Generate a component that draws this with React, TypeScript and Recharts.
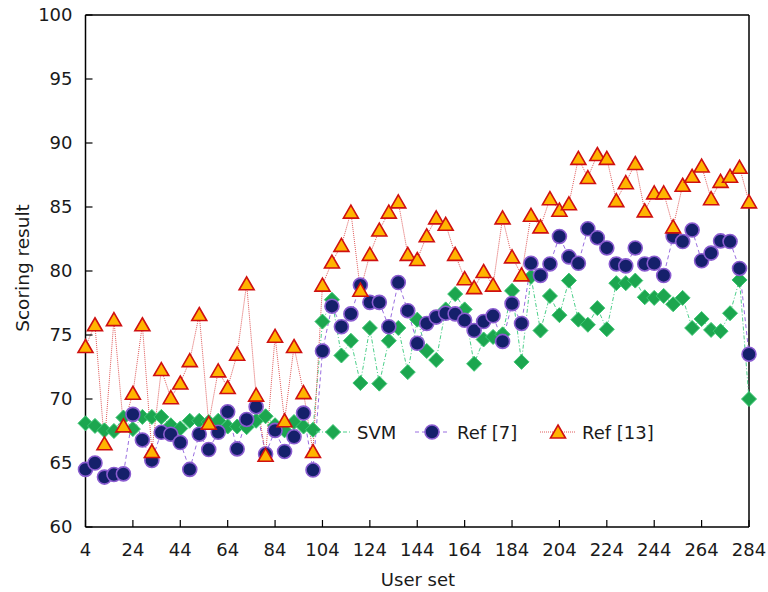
import React from 'react';
import { LineChart, Line, XAxis, YAxis, ReferenceLine, Legend } from 'recharts';

const userSet = [
  4, 8, 12, 16, 20, 24, 28, 32, 36, 40, 44, 48, 52, 56, 60, 64, 68, 72, 76, 80,
  84, 88, 92, 96, 100, 104, 108, 112, 116, 120, 124, 128, 132, 136, 140, 144, 148, 152, 156, 160,
  164, 168, 172, 176, 180, 184, 188, 192, 196, 200, 204, 208, 212, 216, 220, 224, 228, 232, 236, 240,
  244, 248, 252, 256, 260, 264, 268, 272, 276, 280, 284,
];

const svm = [
  68.1, 67.9, 67.55, 67.5, 68.55, 67.65, 68.6, 68.6, 68.6, 67.95, 67.7, 68.3, 68.3, 68.2, 68.3, 67.85, 67.85, 67.8, 68.3, 68.65,
  67.95, 67.55, 68.2, 67.85, 67.6, 76.05, 77.75, 73.4, 74.55, 71.25, 75.55, 71.2, 74.55, 75.55, 72.1, 76.2, 73.75, 73.05, 77.0, 78.2,
  77.0, 72.75, 74.65, 74.85, 75.05, 78.45, 72.9, 79.55, 75.35, 78.05, 76.55, 79.25, 76.2, 75.8, 77.1, 75.45, 79.05, 79.05, 79.25, 77.95,
  77.9, 78.05, 77.4, 77.9, 75.55, 76.25, 75.4, 75.3, 76.7, 79.3, 70.0,
];

const ref7 = [
  64.5, 65.0, 63.9, 64.1, 64.15, 68.8, 66.8, 65.2, 67.4, 67.25, 66.6, 64.5, 67.25, 66.05, 67.4, 69.0, 66.1, 68.4, 69.4, 65.7,
  67.55, 65.9, 67.05, 68.9, 64.45, 73.75, 77.25, 75.65, 76.65, 78.9, 77.55, 77.55, 75.65, 79.1, 76.9, 74.35, 75.9, 76.4, 76.7, 76.65,
  76.15, 75.35, 76.05, 76.5, 74.5, 77.45, 75.9, 80.6, 79.65, 80.55, 82.7, 81.1, 80.6, 83.3, 82.6, 81.8, 80.55, 80.4, 81.8, 80.55,
  80.6, 79.65, 82.7, 82.3, 83.2, 80.8, 81.4, 82.35, 82.3, 80.2, 73.5,
];

const ref13 = [
  74.1, 75.8, 66.5, 76.2, 67.9, 70.45, 75.8, 65.9, 72.3, 70.1, 71.25, 73.0, 76.6, 68.1, 72.2, 70.9, 73.5, 79.0, 70.3, 65.6,
  74.9, 68.3, 74.1, 70.5, 65.9, 78.9, 80.7, 82.0, 84.6, 78.5, 81.3, 83.2, 84.6, 85.4, 81.3, 80.9, 82.75, 84.15, 83.65, 81.3,
  79.4, 78.7, 79.96, 78.9, 84.15, 81.1, 79.7, 84.35, 83.45, 85.65, 84.75, 85.25, 88.8, 87.3, 89.1, 88.8, 85.5, 86.9, 88.4, 84.7,
  86.1, 86.1, 83.45, 86.7, 87.4, 88.2, 85.65, 87.0, 87.4, 88.1, 85.4,
];

const xTicks = [4, 24, 44, 64, 84, 104, 124, 144, 164, 184, 204, 224, 244, 264, 284];
const yTicks = [60, 65, 70, 75, 80, 85, 90, 95, 100];

const seriesNames = ['SVM', 'Ref [7]', 'Ref [13]'];

const data = userSet.map((x, i) => ({ x, svm: svm[i], ref7: ref7[i], ref13: ref13[i] }));

const FONT = '"DejaVu Sans", Verdana, sans-serif';
const TEXT = '#1a1a1a';

const C = {
  svmFill: '#1ca64f',
  svmStroke: '#3cc673',
  svmLine: '#4ccf8a',
  r7Fill: '#15206b',
  r7Stroke: '#8a5cd0',
  r7Line: '#9a6ee0',
  r13Fill: '#ffb400',
  r13Stroke: '#cf1010',
  r13Line: '#e05a5a',
};

const diamondPts = (cx: number, cy: number, r = 7.5) =>
  `${cx},${cy - r} ${cx + r},${cy} ${cx},${cy + r} ${cx - r},${cy}`;

const trianglePts = (cx: number, cy: number) =>
  `${cx},${cy - 7} ${cx + 7.5},${cy + 6} ${cx - 7.5},${cy + 6}`;

const DiamondDot = (p: any) => {
  if (p.cx == null || p.cy == null) return <g key={`sd-${p.index}`} />;
  return (
    <polygon key={`sd-${p.index}`} points={diamondPts(p.cx, p.cy)} fill={C.svmFill} stroke={C.svmStroke} strokeWidth={1} />
  );
};

const CircleDot = (p: any) => {
  if (p.cx == null || p.cy == null) return <g key={`cd-${p.index}`} />;
  return <circle key={`cd-${p.index}`} cx={p.cx} cy={p.cy} r={7} fill={C.r7Fill} stroke={C.r7Stroke} strokeWidth={1.6} />;
};

const TriangleDot = (p: any) => {
  if (p.cx == null || p.cy == null) return <g key={`td-${p.index}`} />;
  return (
    <polygon key={`td-${p.index}`} points={trianglePts(p.cx, p.cy)} fill={C.r13Fill} stroke={C.r13Stroke} strokeWidth={1.6} strokeLinejoin="miter" />
  );
};

const renderLegend = () => (
  <svg width={380} height={40} style={{ display: 'block', overflow: 'visible' }}>
    <g fontFamily={FONT} fontSize={18} fill={TEXT}>
      <line x1={6} y1={20} x2={40} y2={20} stroke={C.svmLine} strokeWidth={1} strokeDasharray="4 2 1 2" />
      <polygon points={diamondPts(23, 20)} fill={C.svmFill} stroke={C.svmStroke} strokeWidth={1} />
      <text x={47} y={20} dominantBaseline="central">{seriesNames[0]}</text>

      <line x1={105} y1={20} x2={139} y2={20} stroke={C.r7Line} strokeWidth={1} strokeDasharray="4 3" />
      <circle cx={122} cy={20} r={7} fill={C.r7Fill} stroke={C.r7Stroke} strokeWidth={1.6} />
      <text x={147} y={20} dominantBaseline="central">{seriesNames[1]}</text>

      <line x1={230} y1={20} x2={265} y2={20} stroke={C.r13Line} strokeWidth={1} strokeDasharray="1 1" />
      <polygon points={trianglePts(248, 20)} fill={C.r13Fill} stroke={C.r13Stroke} strokeWidth={1.6} />
      <text x={272} y={20} dominantBaseline="central">{seriesNames[2]}</text>
    </g>
  </svg>
);

export default function App() {
  return (
    <div style={{ position: 'absolute', left: 0, top: 0, width: 768, height: 592, overflow: 'hidden' }}>
      <LineChart
        width={768}
        height={592}
        data={data}
        margin={{ top: 15, right: 19, left: 8, bottom: 5 }}
      >
        <XAxis
          dataKey="x"
          type="number"
          domain={[4, 284]}
          ticks={xTicks}
          interval={0}
          allowDecimals={false}
          height={60}
          tickSize={-7}
          tickMargin={23}
          axisLine={{ stroke: '#000', strokeWidth: 1.5 }}
          tickLine={{ stroke: '#000', strokeWidth: 1.2 }}
          tick={{ fontSize: 18, fill: TEXT, fontFamily: FONT }}
          label={{
            content: () => (
              <text x={418} y={579} textAnchor="middle" dominantBaseline="central" fontSize={18} fontFamily={FONT} fill={TEXT}>
                User set
              </text>
            ),
          }}
        />
        <YAxis
          type="number"
          domain={[60, 100]}
          ticks={yTicks}
          interval={0}
          width={77.5}
          tickSize={-7}
          tickMargin={20}
          axisLine={{ stroke: '#000', strokeWidth: 1.5 }}
          tickLine={{ stroke: '#000', strokeWidth: 1.2 }}
          tick={{ fontSize: 18, fill: TEXT, fontFamily: FONT }}
          label={{
            content: () => (
              <text
                x={22}
                y={268}
                transform="rotate(-90 22 268)"
                textAnchor="middle"
                dominantBaseline="central"
                fontSize={18.5}
                fontFamily={FONT}
                fill={TEXT}
              >
                Scoring result
              </text>
            ),
          }}
        />
        <ReferenceLine y={100} stroke="#000" strokeWidth={1.5} />
        <ReferenceLine x={284} stroke="#000" strokeWidth={1.5} />
        <Legend
          layout="horizontal"
          verticalAlign="middle"
          align="center"
          width={380}
          height={40}
          wrapperStyle={{ left: 310, top: 412, width: 380, height: 40 }}
          content={renderLegend}
        />
        <Line
          dataKey="svm"
          name={seriesNames[0]}
          stroke={C.svmLine}
          strokeWidth={1}
          strokeDasharray="4 2 1 2"
          dot={DiamondDot}
          activeDot={false}
          isAnimationActive={false}
          type="linear"
        />
        <Line
          dataKey="ref7"
          name={seriesNames[1]}
          stroke={C.r7Line}
          strokeWidth={1}
          strokeDasharray="4 3"
          dot={CircleDot}
          activeDot={false}
          isAnimationActive={false}
          type="linear"
        />
        <Line
          dataKey="ref13"
          name={seriesNames[2]}
          stroke={C.r13Line}
          strokeWidth={1}
          strokeDasharray="1 1"
          dot={TriangleDot}
          activeDot={false}
          isAnimationActive={false}
          type="linear"
        />
      </LineChart>
    </div>
  );
}
